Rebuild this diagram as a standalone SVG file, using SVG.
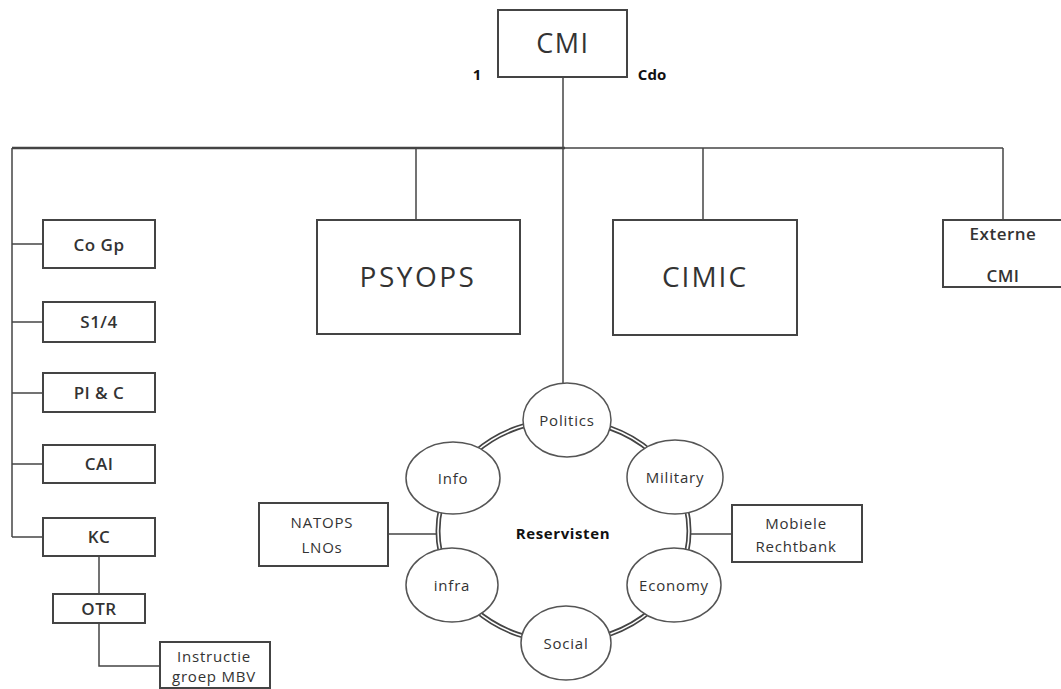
<svg xmlns="http://www.w3.org/2000/svg" width="1061" height="689" viewBox="0 0 1061 689">
<style>
.box{fill:#fff;stroke:#444;stroke-width:2}
.ell{fill:#fff;stroke:#555;stroke-width:1.5}
.ln{fill:none;stroke:#444;stroke-width:1.5}
text{font-family:"Open Sans","Noto Sans",sans-serif;fill:#333;text-anchor:middle}
.big{font-size:27px;letter-spacing:1.5px}
.mid{font-size:17px;font-weight:600;letter-spacing:0.5px}
.sm{font-size:15px;letter-spacing:0.8px}
.b{font-weight:bold;fill:#111}
</style>
<rect width="1061" height="689" fill="#fff"/>
<g id="connectors">
<line class="ln" x1="563" y1="77" x2="563" y2="400"/>
<line class="ln" x1="12" y1="148" x2="565" y2="148" style="stroke-width:2.5"/>
<line class="ln" x1="565" y1="148" x2="1003" y2="148"/>
<line class="ln" x1="12" y1="148" x2="12" y2="537"/>
<line class="ln" x1="12" y1="244" x2="43" y2="244"/>
<line class="ln" x1="12" y1="322" x2="43" y2="322"/>
<line class="ln" x1="12" y1="393" x2="43" y2="393"/>
<line class="ln" x1="12" y1="464" x2="43" y2="464"/>
<line class="ln" x1="12" y1="537" x2="43" y2="537"/>
<line class="ln" x1="99" y1="556" x2="99" y2="594"/>
<polyline class="ln" points="99,623 99,666 160,666"/>
<line class="ln" x1="416" y1="148" x2="416" y2="220"/>
<line class="ln" x1="703" y1="148" x2="703" y2="220"/>
<line class="ln" x1="1003" y1="148" x2="1003" y2="220"/>
<line class="ln" x1="388" y1="534" x2="438" y2="534"/>
<line class="ln" x1="689" y1="534" x2="732" y2="534"/>
<ellipse cx="563.5" cy="531" rx="125.5" ry="111" fill="none" stroke="#444" stroke-width="5"/>
<ellipse cx="563.5" cy="531" rx="125.5" ry="111" fill="none" stroke="#fff" stroke-width="1.6"/>
</g>
<g id="cmi"><rect class="box" x="498" y="10" width="129" height="67"/><text class="big" x="563" y="53">CMI</text></g>
<g id="lbl1"><text class="b" x="477" y="80" style="font-size:15px">1</text></g>
<g id="lblcdo"><text class="b" x="652" y="80" style="font-size:15px">Cdo</text></g>
<g id="cogp"><rect class="box" x="43" y="220" width="112" height="48"/><text class="mid" x="99" y="251">Co Gp</text></g>
<g id="s14"><rect class="box" x="43" y="302" width="112" height="40"/><text class="mid" x="99" y="328">S1/4</text></g>
<g id="plc"><rect class="box" x="43" y="373" width="112" height="39"/><text class="mid" x="99" y="399">Pl &amp; C</text></g>
<g id="cai"><rect class="box" x="43" y="445" width="112" height="38"/><text class="mid" x="99" y="470">CAI</text></g>
<g id="kc"><rect class="box" x="43" y="518" width="112" height="38"/><text class="mid" x="99" y="543">KC</text></g>
<g id="otr"><rect class="box" x="53" y="594" width="92" height="29"/><text class="mid" x="99" y="615">OTR</text></g>
<g id="instr"><rect class="box" x="160" y="642" width="110" height="46"/><text class="sm" x="214" y="662">Instructie</text><text class="sm" x="214" y="682">groep MBV</text></g>
<g id="psyops"><rect class="box" x="317" y="220" width="203" height="114"/><text class="big" x="418" y="287" style="font-size:28px;letter-spacing:2.5px">PSYOPS</text></g>
<g id="cimic"><rect class="box" x="613" y="220" width="184" height="115"/><text class="big" x="705" y="287" style="font-size:28px;letter-spacing:2px">CIMIC</text></g>
<g id="externe"><rect class="box" x="943" y="220" width="125" height="67"/><text class="mid" x="1003" y="240">Externe</text><text class="mid" x="1003" y="282">CMI</text></g>
<g id="politics"><ellipse class="ell" cx="567" cy="420" rx="44" ry="37"/><text class="sm" x="567" y="426">Politics</text></g>
<g id="military"><ellipse class="ell" cx="675" cy="477" rx="48" ry="37"/><text class="sm" x="675" y="483">Military</text></g>
<g id="economy"><ellipse class="ell" cx="674" cy="585" rx="47" ry="37"/><text class="sm" x="674" y="591">Economy</text></g>
<g id="social"><ellipse class="ell" cx="566" cy="643" rx="45" ry="37"/><text class="sm" x="566" y="649">Social</text></g>
<g id="infra"><ellipse class="ell" cx="452" cy="585" rx="46" ry="37"/><text class="sm" x="452" y="591">infra</text></g>
<g id="info"><ellipse class="ell" cx="453" cy="478" rx="47" ry="36"/><text class="sm" x="453" y="484">Info</text></g>
<g id="reservisten"><text class="sm b" x="563" y="539" style="font-size:15px;letter-spacing:0.6px">Reservisten</text></g>
<g id="natops"><rect class="box" x="259" y="503" width="129" height="63"/><text class="sm" x="322" y="528">NATOPS</text><text class="sm" x="322" y="553">LNOs</text></g>
<g id="mobiele"><rect class="box" x="732" y="505" width="130" height="57"/><text class="sm" x="796" y="529">Mobiele</text><text class="sm" x="796" y="552">Rechtbank</text></g>
</svg>
